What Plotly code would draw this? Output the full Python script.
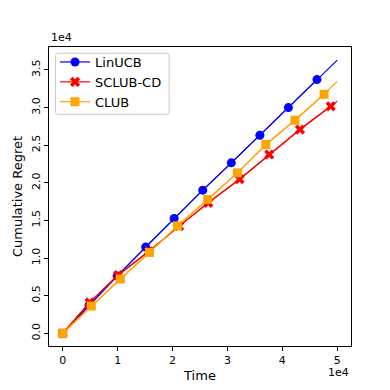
import plotly.graph_objects as go

# marker points (time, cumulative regret)
linucb_t = [0, 4800, 9900, 15100, 20300, 25500, 30700, 35900, 41100, 46300, 50000]
linucb_r = [0, 3700, 7600, 11460, 15270, 19020, 22650, 26320, 30000, 33720, 36300]

sclub_t = [0, 4900, 10100, 15700, 21200, 26500, 32200, 37600, 43200, 48800, 50000]
sclub_r = [0, 4100, 7740, 10900, 14240, 17340, 20480, 23760, 27080, 30170, 30840]

club_t = [0, 5200, 10500, 15800, 20900, 26400, 31800, 37000, 42300, 47600, 50000]
club_r = [0, 3620, 7210, 10750, 14280, 17790, 21320, 25090, 28320, 31770, 33490]

series = [
    ("LinUCB", linucb_t, linucb_r, "blue", "circle", 9),
    ("SCLUB-CD", sclub_t, sclub_r, "red", "x", 9),
    ("CLUB", club_t, club_r, "orange", "square", 9),
]

fig = go.Figure()
for name, t, r, col, sym, sz in series:
    # full line up to the last time step
    fig.add_trace(go.Scatter(x=t, y=r, mode="lines", line=dict(color=col, width=1.2),
                             showlegend=False, hoverinfo="skip"))
    # markers (last point has no marker)
    fig.add_trace(go.Scatter(x=t[:-1], y=r[:-1], mode="lines+markers", name=name,
                             line=dict(color=col, width=1.2),
                             marker=dict(symbol=sym, size=sz, color=col, line=dict(width=0))))


def rounded_box(x0, y0, x1, y1, rx, ry):
    # rounded rectangle path in paper coords
    return (f"M {x0+rx},{y0} L {x1-rx},{y0} Q {x1},{y0} {x1},{y0+ry} "
            f"L {x1},{y1-ry} Q {x1},{y1} {x1-rx},{y1} L {x0+rx},{y1} "
            f"Q {x0},{y1} {x0},{y1-ry} L {x0},{y0+ry} Q {x0},{y0} {x0+rx},{y0} Z")


font = "DejaVu Sans, Arial, sans-serif"
# the page body adds an 8px offset, so the figure is 8px smaller
fig.update_layout(
    width=382, height=382,
    margin=dict(l=41, r=39, t=39, b=44),
    paper_bgcolor="white", plot_bgcolor="white",
    font=dict(family=font, size=11, color="black"),
    showlegend=True,
    legend=dict(x=0.02, y=1.0, xanchor="left", yanchor="top",
                bgcolor="rgba(0,0,0,0)", borderwidth=0,
                font=dict(size=13), itemwidth=30, tracegroupgap=0),
    shapes=[dict(type="path", xref="paper", yref="paper",
                 path=rounded_box(0.0215, 0.775, 0.398, 0.979, 0.008, 0.008),
                 line=dict(color="#cccccc", width=1),
                 fillcolor="rgba(255,255,255,0.8)", layer="above")],
    xaxis=dict(range=[-2500, 52500], tickvals=[0, 10000, 20000, 30000, 40000, 50000],
               ticktext=["0", "1", "2", "3", "4", "5"], showgrid=False, zeroline=False,
               showline=True, linecolor="black", linewidth=1, mirror=True,
               ticks="outside", ticklen=4, tickcolor="black", automargin=False,
               title=dict(text="Time", font=dict(size=13), standoff=4)),
    yaxis=dict(range=[-1690, 38050],
               tickvals=[0, 5000, 10000, 15000, 20000, 25000, 30000, 35000],
               ticktext=["0.0", "0.5", "1.0", "1.5", "2.0", "2.5", "3.0", "3.5"],
               tickangle=-90, showgrid=False, zeroline=False,
               showline=True, linecolor="black", linewidth=1, mirror=True,
               ticks="outside", ticklen=4, tickcolor="black", automargin=False,
               title=dict(text="Cumulative Regret", font=dict(size=13), standoff=4)),
    annotations=[
        dict(text="1e4", x=0, y=1, xref="paper", yref="paper", xanchor="left",
             yanchor="bottom", showarrow=False, font=dict(size=11), yshift=1),
        dict(text="1e4", x=1, y=0, xref="paper", yref="paper", xanchor="right",
             yanchor="top", showarrow=False, font=dict(size=11), yshift=-18),
    ],
)

fig.write_html("out.html")
